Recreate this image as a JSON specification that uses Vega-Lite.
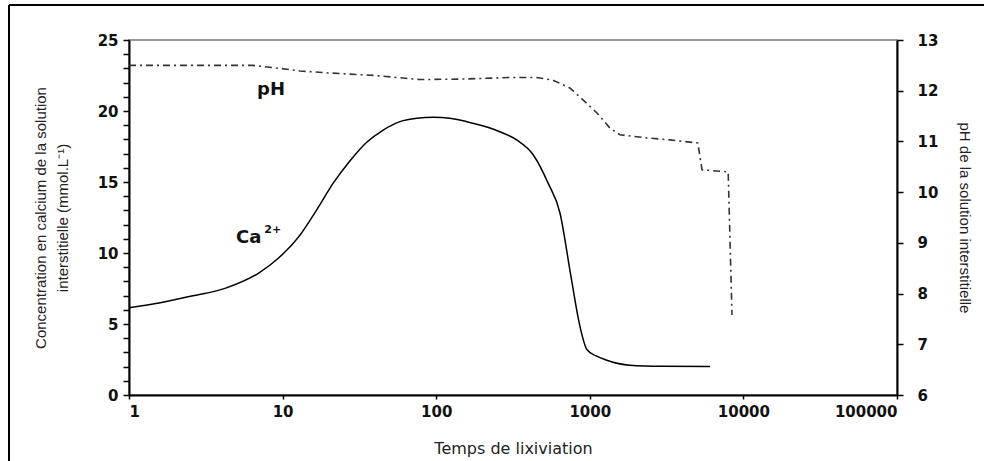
{
  "$schema": "https://vega.github.io/schema/vega-lite/v6.json",
  "width": 768,
  "height": 355,
  "autosize": {"type": "none"},
  "padding": {"left": 129, "top": 40, "right": 87, "bottom": 66},
  "background": "white",
  "config": {
    "view": {"stroke": "#9a9a9a", "strokeWidth": 2},
    "axis": {
      "labelFont": "DejaVu Sans",
      "labelFontWeight": "bold",
      "labelFontSize": 15,
      "labelColor": "#111",
      "labelOverlap": false,
      "titleFont": "Liberation Sans",
      "titleFontWeight": "normal",
      "titleFontSize": 15,
      "titleColor": "#222",
      "domainColor": "black",
      "domainWidth": 2,
      "tickColor": "black",
      "tickWidth": 1.5,
      "grid": false
    }
  },
  "datasets": {
    "ca": [
      {"t": 1, "v": 6.15}, {"t": 1.6, "v": 6.5}, {"t": 2.56, "v": 6.97}, {"t": 4.22, "v": 7.51},
      {"t": 6.95, "v": 8.57}, {"t": 9.38, "v": 9.63}, {"t": 13, "v": 11.27}, {"t": 16.6, "v": 13.0},
      {"t": 21.3, "v": 14.9}, {"t": 27.5, "v": 16.5}, {"t": 35.3, "v": 17.8}, {"t": 45.2, "v": 18.66},
      {"t": 58.1, "v": 19.25}, {"t": 74.7, "v": 19.49}, {"t": 95.9, "v": 19.56}, {"t": 123, "v": 19.49},
      {"t": 158, "v": 19.25}, {"t": 203, "v": 18.94}, {"t": 260, "v": 18.54}, {"t": 334, "v": 17.96},
      {"t": 429, "v": 16.9}, {"t": 536, "v": 14.9}, {"t": 640, "v": 12.8}, {"t": 750, "v": 8.5},
      {"t": 864, "v": 4.8}, {"t": 957, "v": 3.2}, {"t": 1100, "v": 2.75}, {"t": 1290, "v": 2.45},
      {"t": 1820, "v": 2.1}, {"t": 3000, "v": 2.02}, {"t": 6060, "v": 2.0}
    ],
    "ph": [
      {"t": 1, "p": 12.5}, {"t": 6.4, "p": 12.5}, {"t": 9, "p": 12.45}, {"t": 13, "p": 12.39},
      {"t": 20, "p": 12.35}, {"t": 40, "p": 12.3}, {"t": 78, "p": 12.22}, {"t": 150, "p": 12.23},
      {"t": 300, "p": 12.26}, {"t": 450, "p": 12.26}, {"t": 575, "p": 12.21}, {"t": 745, "p": 12.05},
      {"t": 903, "p": 11.82}, {"t": 1114, "p": 11.56}, {"t": 1356, "p": 11.26}, {"t": 1573, "p": 11.13},
      {"t": 2350, "p": 11.07}, {"t": 3320, "p": 11.03}, {"t": 5050, "p": 10.97}, {"t": 5380, "p": 10.44},
      {"t": 7960, "p": 10.4}, {"t": 8430, "p": 7.58}
    ],
    "labels": [
      {"t": 8.41, "v": 21.48, "txt": "pH", "kind": "ph"},
      {"t": 4.97, "v": 11.06, "txt": "Ca", "kind": "ca"},
      {"t": 7.6, "v": 11.6, "txt": "2+", "kind": "sup"}
    ]
  },
  "layer": [
    {
      "data": {"name": "ca"},
      "mark": {"type": "line", "color": "black", "strokeWidth": 1.5, "interpolate": "monotone"},
      "encoding": {
        "x": {
          "field": "t", "type": "quantitative",
          "scale": {"type": "log", "domain": [1, 100000], "nice": false},
          "axis": {
            "values": [1, 10, 100, 1000, 10000, 100000],
            "format": "d",
            "tickSize": 4,
            "labelPadding": 5,
            "labelFontSize": 15,
            "title": "Temps de lixiviation",
            "titleFont": "DejaVu Sans",
            "titleFontSize": 16,
            "titlePadding": 21
          }
        },
        "y": {
          "field": "v", "type": "quantitative",
          "scale": {"domain": [0, 25], "nice": false, "zero": false},
          "axis": {
            "orient": "left",
            "values": [0,1,2,3,4,5,6,7,8,9,10,11,12,13,14,15,16,17,18,19,20,21,22,23,24,25],
            "labelExpr": "datum.value % 5 == 0 ? datum.label : ''",
            "tickSize": 6,
            "labelPadding": 5,
            "title": ["Concentration en calcium de la solution", "interstitielle (mmol.L⁻¹)"],
            "titleLineHeight": 22,
            "titlePadding": 27
          }
        }
      }
    },
    {
      "data": {"name": "ph"},
      "mark": {"type": "line", "color": "#333", "strokeWidth": 1.6, "strokeDash": [7, 4, 2, 4]},
      "encoding": {
        "x": {"field": "t", "type": "quantitative"},
        "y": {
          "field": "p", "type": "quantitative",
          "scale": {"domain": [6, 13], "nice": false, "zero": false},
          "axis": {
            "orient": "right",
            "values": [6, 7, 8, 9, 10, 11, 12, 13],
            "tickSize": 6,
            "labelPadding": 14,
            "title": "pH de la solution interstitielle",
            "titleAngle": 90,
            "titlePadding": 19
          }
        }
      }
    },
    {
      "data": {"name": "labels"},
      "transform": [{"filter": "datum.kind == 'ph'"}],
      "mark": {"type": "text", "font": "DejaVu Sans", "fontWeight": "bold", "fontSize": 18, "baseline": "middle", "align": "center", "color": "#111"},
      "encoding": {
        "x": {"field": "t", "type": "quantitative"},
        "y": {"field": "v", "type": "quantitative", "scale": {"domain": [0, 25], "nice": false, "zero": false}, "axis": null},
        "text": {"field": "txt"}
      }
    },
    {
      "data": {"name": "labels"},
      "transform": [{"filter": "datum.kind == 'ca'"}],
      "mark": {"type": "text", "font": "DejaVu Sans", "fontWeight": "bold", "fontSize": 18, "baseline": "middle", "align": "left", "color": "#111"},
      "encoding": {
        "x": {"field": "t", "type": "quantitative"},
        "y": {"field": "v", "type": "quantitative", "scale": {"domain": [0, 25], "nice": false, "zero": false}, "axis": null},
        "text": {"field": "txt"}
      }
    },
    {
      "data": {"name": "labels"},
      "transform": [{"filter": "datum.kind == 'sup'"}],
      "mark": {"type": "text", "font": "DejaVu Sans", "fontWeight": "bold", "fontSize": 11, "baseline": "middle", "align": "left", "color": "#111"},
      "encoding": {
        "x": {"field": "t", "type": "quantitative"},
        "y": {"field": "v", "type": "quantitative", "scale": {"domain": [0, 25], "nice": false, "zero": false}, "axis": null},
        "text": {"field": "txt"}
      }
    },
    {
      "data": {"values": [{}]},
      "mark": {"type": "rule", "color": "black", "strokeWidth": 2, "clip": false},
      "encoding": {
        "x": {"datum": 0.1655, "type": "quantitative"},
        "x2": {"datum": 500000},
        "y": {"datum": 27.46, "type": "quantitative", "scale": {"domain": [0, 25], "nice": false, "zero": false}, "axis": null}
      }
    },
    {
      "data": {"values": [{}]},
      "mark": {"type": "rule", "color": "black", "strokeWidth": 2, "clip": false},
      "encoding": {
        "x": {"datum": 0.1655, "type": "quantitative"},
        "y": {"datum": 27.46, "type": "quantitative", "scale": {"domain": [0, 25], "nice": false, "zero": false}, "axis": null},
        "y2": {"datum": -6}
      }
    }
  ],
  "resolve": {"scale": {"y": "independent"}}
}
